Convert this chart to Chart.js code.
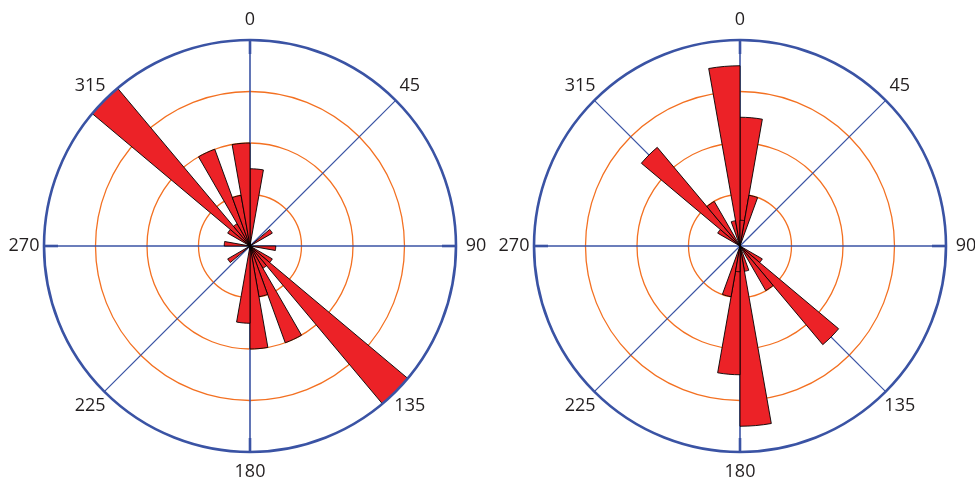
<!DOCTYPE html>
<html>
<head>
<meta charset="utf-8">
<script src="https://cdn.jsdelivr.net/npm/chart.js@4/dist/chart.umd.min.js"></script>
<style>
  html, body { margin: 0; padding: 0; background: #ffffff; }
  #wrap { position: relative; width: 975px; height: 479px; overflow: hidden; }
  canvas { position: absolute; top: 0; }
  #roseLeft { left: 0; }
  #roseRight { left: 493px; }
</style>
</head>
<body>
<div id="wrap">
  <canvas id="roseLeft" width="493" height="479"></canvas>
  <canvas id="roseRight" width="482" height="479"></canvas>
</div>
<script>
// 10-degree direction bins, clockwise from north
const binStarts = [0, 10, 20, 30, 40, 50, 60, 70, 80, 90, 100, 110,
                   120, 130, 140, 150, 160, 170, 180, 190, 200, 210, 220, 230,
                   240, 250, 260, 270, 280, 290, 300, 310, 320, 330, 340, 350];

// counts per bin
const leftCounts  = [6, 0, 0, 0, 0, 2, 0, 0, 0, 2, 0, 0, 2, 16, 2, 8, 4, 8,
                     6, 0, 0, 0, 0, 2, 0, 0, 0, 2, 0, 0, 2, 16, 2, 8, 4, 8];
const rightCounts = [10, 4, 0, 0, 0, 0, 0, 0, 0, 0, 0, 0, 2, 10, 4, 0, 2, 14,
                     10, 4, 0, 0, 0, 0, 0, 0, 0, 0, 0, 0, 2, 10, 4, 0, 2, 14];
const rightInnerCounts = [2, 0, 0, 0, 0, 0, 0, 0, 0, 0, 0, 0, 0, 0, 0, 0, 0, 0,
                          2, 0, 0, 0, 0, 0, 0, 0, 0, 0, 0, 0, 0, 0, 0, 0, 0, 0];

// compass labels and count rings
const directionAngles = [0, 45, 90, 135, 180, 225, 270, 315];
const directionLabels = ['0', '45', '90', '135', '180', '225', '270', '315'];
const ringValues = [4, 8, 12, 16];

const BAR_RED = '#EC2227';
const FRAME_BLUE = '#3A53A4';
const RING_ORANGE = '#F37021';
const TEXT_DARK = '#231F20';

const binNames = binStarts.map(s => s + '–' + (s + 10));

// spokes, outer circle and compass labels
const roseFrame = {
  id: 'roseFrame',
  beforeDatasetsDraw(chart) {
    const r = chart.scales.r;
    const ctx = chart.ctx;
    const R = r.drawingArea;
    ctx.save();
    ctx.strokeStyle = FRAME_BLUE;
    directionAngles.forEach(a => {
      const p = r.getPointPosition(a / 10, R);
      ctx.lineWidth = (a % 90 === 0) ? 1.6 : 1.2;
      ctx.beginPath();
      ctx.moveTo(r.xCenter, r.yCenter);
      ctx.lineTo(p.x, p.y);
      ctx.stroke();
    });
    ctx.restore();
  },
  afterDatasetsDraw(chart) {
    const r = chart.scales.r;
    const ctx = chart.ctx;
    const R = r.drawingArea;
    ctx.save();
    ctx.strokeStyle = FRAME_BLUE;
    ctx.lineWidth = 2.6;
    ctx.beginPath();
    ctx.arc(r.xCenter, r.yCenter, R, 0, Math.PI * 2);
    ctx.stroke();
    // heavier stubs on the four cardinal spokes
    ctx.lineWidth = 2.6;
    [0, 90, 180, 270].forEach(a => {
      const p0 = r.getPointPosition(a / 10, R - 14);
      const p1 = r.getPointPosition(a / 10, R);
      ctx.beginPath();
      ctx.moveTo(p0.x, p0.y);
      ctx.lineTo(p1.x, p1.y);
      ctx.stroke();
    });
    ctx.fillStyle = TEXT_DARK;
    ctx.font = '18px "Open Sans", "DejaVu Sans", sans-serif';
    ctx.textAlign = 'center';
    ctx.textBaseline = 'middle';
    directionAngles.forEach((a, i) => {
      const p = r.getPointPosition(a / 10, R + 20);
      ctx.fillText(directionLabels[i], p.x, p.y);
    });
    ctx.restore();
  }
};

function barDataset(values, order) {
  return {
    data: values,
    order: order,
    backgroundColor: BAR_RED,
    borderColor: '#000000',
    borderWidth: c => (c.raw > 0 ? 0.9 : 0)
  };
}

function makeRose(canvasId, datasets, padding) {
  return new Chart(document.getElementById(canvasId), {
    type: 'polarArea',
    data: { labels: binNames, datasets: datasets },
    options: {
      responsive: false,
      animation: false,
      layout: { padding: padding },
      plugins: { legend: { display: false }, tooltip: { enabled: false } },
      scales: {
        r: {
          min: 0,
          max: ringValues[ringValues.length - 1],
          startAngle: 0,
          ticks: { display: false, stepSize: ringValues[0] },
          angleLines: { display: false },
          pointLabels: { display: false },
          grid: {
            circular: true,
            color: c => (c.tick && c.tick.value >= ringValues[ringValues.length - 1]) ? 'rgba(0,0,0,0)' : RING_ORANGE,
            lineWidth: 1.3
          }
        }
      }
    },
    plugins: [roseFrame]
  });
}

makeRose('roseLeft', [barDataset(leftCounts, 1)],
  { left: 44, right: 37, top: 40, bottom: 27 });
makeRose('roseRight', [barDataset(rightInnerCounts, 0), barDataset(rightCounts, 1)],
  { left: 41, right: 29, top: 40, bottom: 27 });
</script>
</body>
</html>
